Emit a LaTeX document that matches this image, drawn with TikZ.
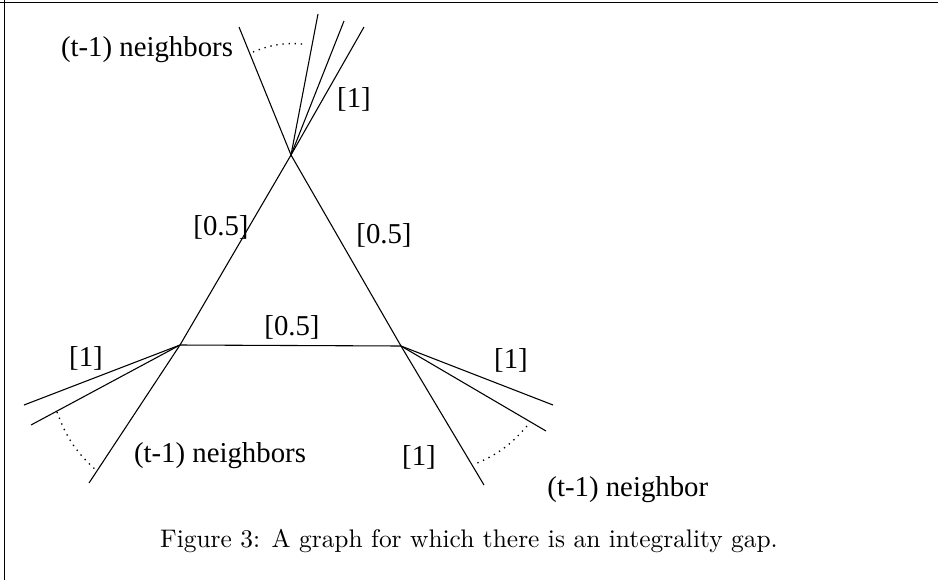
\documentclass[tikz,border=0pt]{standalone}
\usepackage{fontspec}
\newfontfamily\figfont{Liberation Serif}

\begin{document}
\begin{tikzpicture}[
  x=0.01465cm, y=-0.01465cm,
  edge/.style={line width=0.45pt},
  gaparc/.style={dotted, line width=0.55pt},
  lbl/.style={font=\figfont\fontsize{12}{14}\selectfont, inner sep=0pt},
  capt/.style={font=\fontsize{10.6}{12.5}\selectfont, inner sep=0pt}
]
\useasboundingbox (0,0) rectangle (938,580);
\draw[line width=0.7pt] (0,2.5) -- (938,2.5);
\draw[line width=0.4pt] (4,0) -- (4,580);

%% ===== triangle =====
\coordinate (t) at (291,155);
\coordinate (l) at (180,345);
\coordinate (r) at (401,346);

\draw[edge] (t) -- (l);
\draw[edge] (t) -- (r);
\draw[edge] (l) -- (r);

\node[lbl] (wl) at (221,227) {[0.5]};
\node[lbl] (wr) at (384,235) {[0.5]};
\node[lbl] (wb) at (292,327) {[0.5]};

%% ===== pendant edges =====
\coordinate (ta) at (239,27);
\coordinate (tb) at (318,14);
\coordinate (tc) at (344,21);
\coordinate (td) at (364,27);
\coordinate (la) at (24,405);
\coordinate (lb) at (31,425);
\coordinate (lc) at (89,483);
\coordinate (ra) at (553,405);
\coordinate (rb) at (546,431);
\coordinate (rc) at (484,485);

\foreach \e in {ta,tb,tc,td} \draw[edge] (t) -- (\e);
\foreach \e in {la,lb,lc} \draw[edge] (l) -- (\e);
\foreach \e in {ra,rb,rc} \draw[edge] (r) -- (\e);

%% ===== dotted arcs =====
\coordinate (ta1) at (253,52);
\coordinate (ta2) at (303,44);
\coordinate (la1) at (57,412);
\coordinate (la2) at (97,471);
\coordinate (ra1) at (527,426);
\coordinate (ra2) at (475,464);

\draw[gaparc] (ta1) to[bend left=13] (ta2);
\draw[gaparc] (la1) to[bend right=14] (la2);
\draw[gaparc] (ra1) to[bend left=13] (ra2);

%% ===== labels =====
\node[lbl] (nt) at (147,50) {(t-1) neighbors};
\node[lbl] (wt) at (354,99) {[1]};
\node[lbl] (wla) at (86,358) {[1]};
\node[lbl] (nl) at (220,456) {(t-1) neighbors};
\node[lbl] (wra) at (511,360) {[1]};
\node[lbl] (wrc) at (419,457) {[1]};
\node[lbl, anchor=west] (nr) at (547,490) {(t-1) neighbor};

\node[capt] (cap) at (469,541) {Figure 3: A graph for which there is an integrality gap.};
\end{tikzpicture}
\end{document}
